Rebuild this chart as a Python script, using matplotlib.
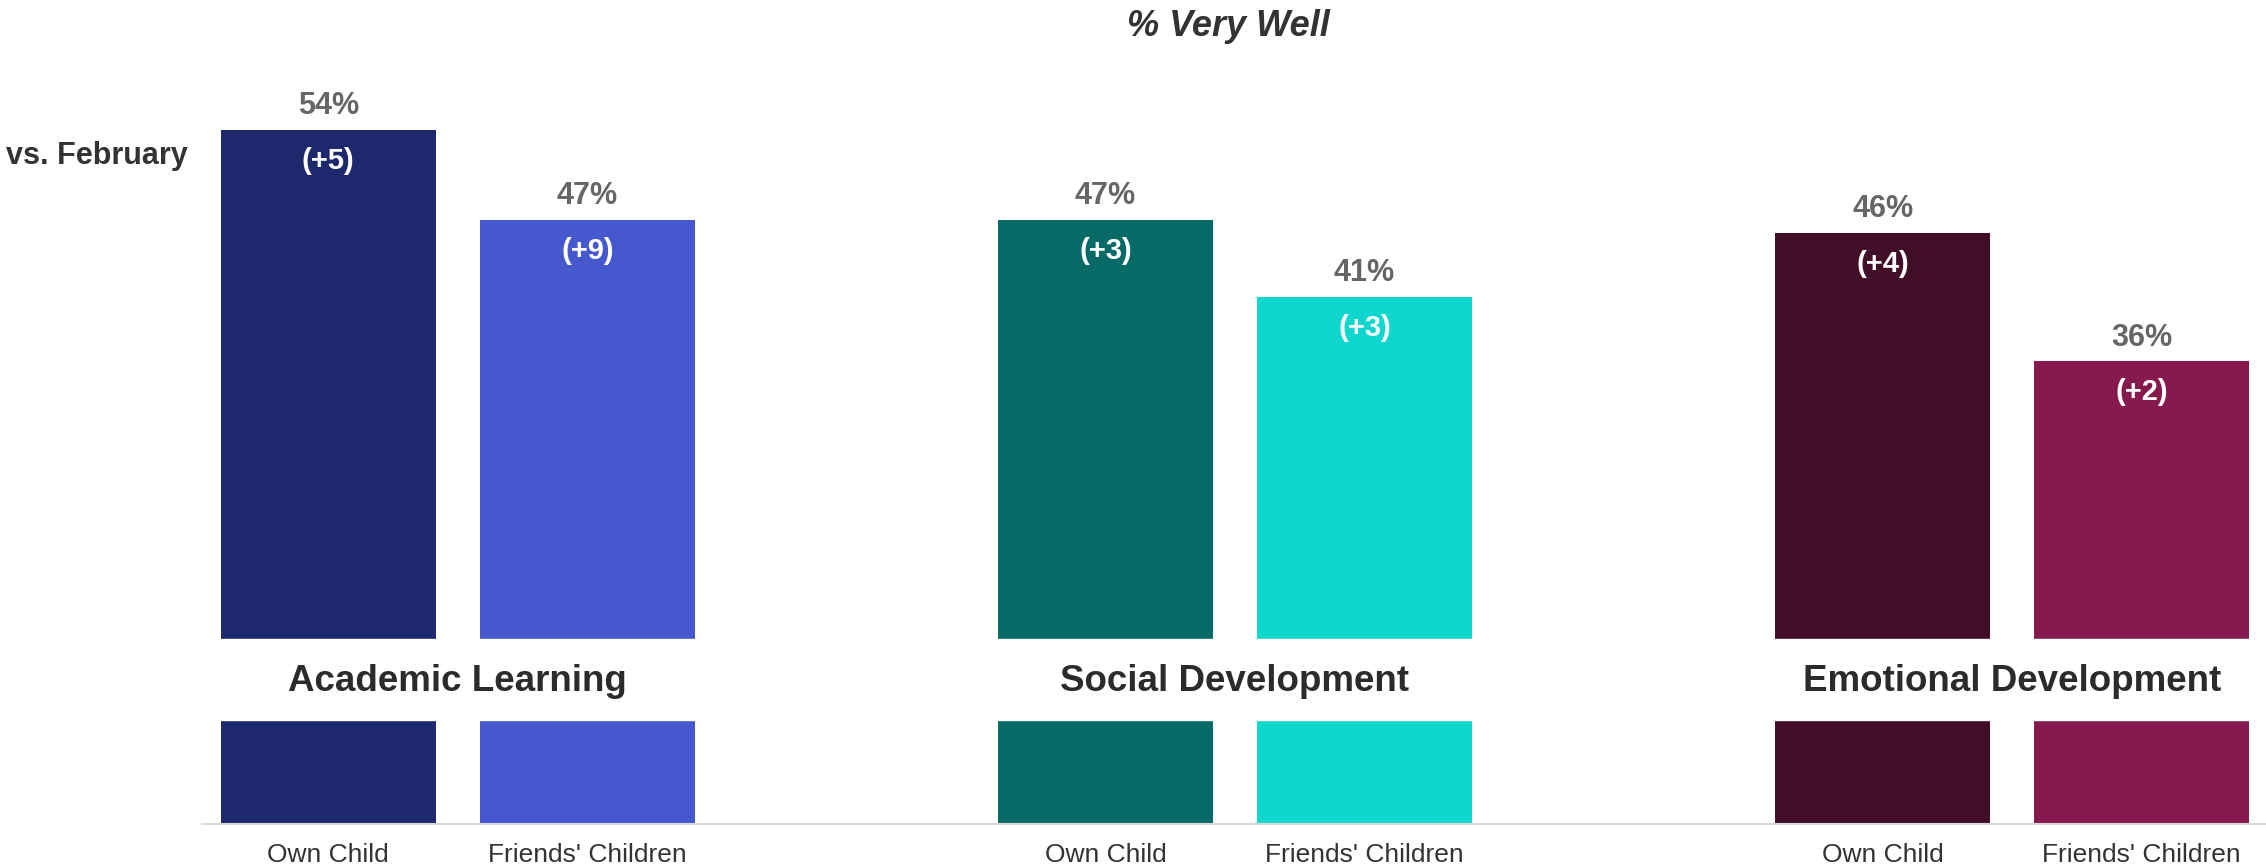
import numpy as np
import matplotlib.pyplot as plt

plt.rcParams['font.family'] = ['Liberation Sans', 'DejaVu Sans']

# data
groups = ["Academic Learning", "Social Development", "Emotional Development"]
bar_labels = ["Own Child", "Friends' Children"]
values = [54, 47, 47, 41, 46, 36]
changes = ["(+5)", "(+9)", "(+3)", "(+3)", "(+4)", "(+2)"]
colors = ["#1E286C", "#4658CD", "#086A66", "#10D7CE", "#420D28", "#861A4E"]

# bar positions: pairs with a gap between groups
x = np.array([0, 1, 3, 4, 6, 7])
width = 0.83

fig = plt.figure(figsize=(22.66, 8.68), dpi=100)
ax = fig.add_axes([0.0891, 0.0507, 0.9109, 0.9493])

ax.bar(x, values, width=width, color=colors, zorder=2)

# white band across the bars holding the group names
ax.axhspan(8.1, 14.4, color="white", zorder=3)
for i, g in enumerate(groups):
    ax.text(x[2 * i] + 0.5, 11.05, g, ha="center", va="center",
            fontsize=26.5, fontweight="bold", color="#2b2b2b", zorder=4)

# value and change labels
for xi, v, c in zip(x, values, changes):
    ax.annotate(f"{v}%", (xi, v), xytext=(0, 17), textcoords="offset points",
                ha="center", va="center", fontsize=22, fontweight="bold",
                color="#666666")
    ax.annotate(c, (xi, v), xytext=(0, -22.5), textcoords="offset points",
                ha="center", va="center", fontsize=21, fontweight="bold",
                color="white", zorder=5)

ax.set_xlim(-0.488, 7.48)
ax.set_ylim(0, 64.1)

ax.set_xticks(x)
ax.set_xticklabels(bar_labels * 3, fontsize=19, color="#333333")
ax.tick_params(axis="x", length=0, pad=14)
ax.set_yticks([])
for s in ["top", "right", "left"]:
    ax.spines[s].set_visible(False)
ax.spines["bottom"].set_color("#d9d9d9")
ax.spines["bottom"].set_linewidth(1.5)

fig.text(1228 / 2266, 1 - 26 / 868, "% Very Well", ha="center", va="center",
         fontsize=26, fontweight="bold", style="italic", color="#333333")
fig.text(188 / 2266, 1 - 156 / 868, "vs. February", ha="right", va="center",
         fontsize=22, fontweight="bold", color="#333333")

fig.savefig("out.png", dpi=100)
